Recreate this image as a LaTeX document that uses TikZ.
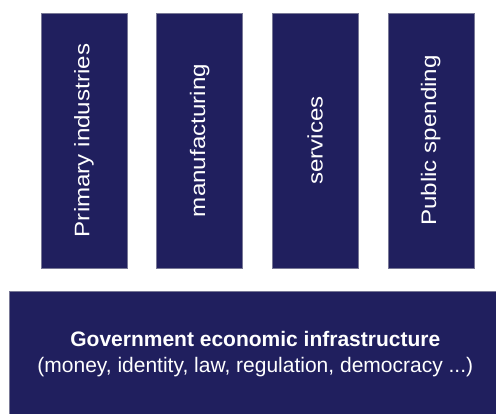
\documentclass[tikz,border=0pt]{standalone}
\usepackage{fontspec}
\setmainfont{Liberation Sans}
\usepackage{xcolor}
\usetikzlibrary{positioning}
\definecolor{SectorNavy}{RGB}{32,31,94}
\definecolor{SectorEdge}{RGB}{120,120,150}

\begin{document}
\begin{tikzpicture}[x=1pt,y=-1pt,
		sector/.style={rectangle,minimum width=86pt,minimum height=255pt,inner sep=0pt,text centered,draw=SectorEdge,line width=0.6pt,fill=SectorNavy,text=white,font=\fontsize{21}{25}\selectfont},
		base/.style={rectangle,minimum width=492pt,minimum height=125pt,inner sep=0pt,align=center,draw=SectorEdge,line width=0.6pt,fill=SectorNavy,text=white,font=\fontsize{21}{26}\selectfont}
	]
	\useasboundingbox (0,0) rectangle (496,414);
	\clip (0,0) rectangle (496,414);
	% the four sectors
	\node (primary)[sector] at (84,140.5){\rotatebox{90}{\scalebox{1.15}[1]{Primary industries}}};
	\node (manufacturing)[sector,right=29pt of primary]{\rotatebox{90}{\scalebox{1.15}[1]{manufacturing}}};
	\node (services)[sector,right=29pt of manufacturing]{\rotatebox{90}{\scalebox{1.15}[1]{services}}};
	\node (spending)[sector,right=29pt of services]{\rotatebox{90}{\scalebox{1.15}[1]{Public spending}}};
	% infrastructure underneath
	\node (infrastructure)[base,anchor=north west] at (9,291){
		\textbf{Government economic infrastructure}\\
		(money, identity, law, regulation, democracy ...)
	};
\end{tikzpicture}
\end{document}
